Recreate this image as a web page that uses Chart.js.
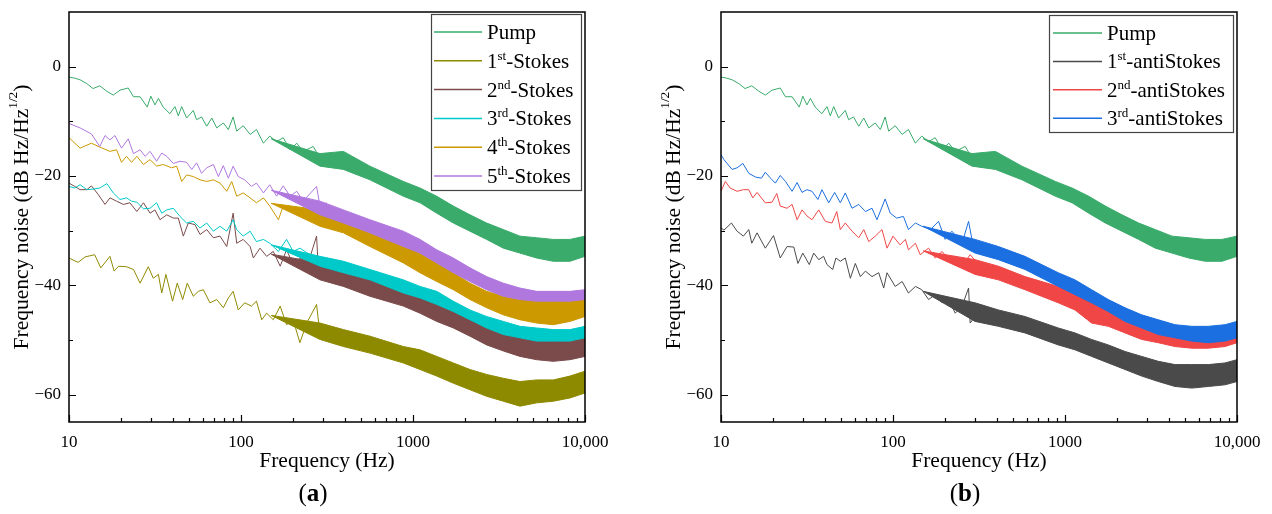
<!DOCTYPE html>
<html><head><meta charset="utf-8">
<script src="https://cdn.jsdelivr.net/npm/chart.js@4.4.1/dist/chart.umd.min.js"></script>
<style>
html,body{margin:0;padding:0;background:#fff;}
#wrap{position:relative;width:1272px;height:514px;overflow:hidden;}
.cv{position:absolute;top:0;width:636px;height:514px;}
</style></head><body>
<div id="wrap">
<div class="cv" style="left:0"><canvas id="ca" width="636" height="514"></canvas></div>
<div class="cv" style="left:636px"><canvas id="cb" width="636" height="514"></canvas></div>
</div>
<script>
// ---------- axes ----------
const xTicks = [10, 100, 1000, 10000];
const xTickLabels = ['10', '100', '1000', '10,000'];
const yTicks = [-60, -40, -20, 0];
const yTickLabels = ['\u221260', '\u221240', '\u221220', '0'];
const yMinorTicks = [-50, -30, -10];
const xTitle = 'Frequency (Hz)';

// ---------- low-frequency traces (Hz, dB) ----------
const pumpF = [10,10.8,11.6,12.7,13.8,15.1,16.6,18.1,19.8,22.1,23.7,25.9,28.5,29.9,31.6,33.1,35.3,38.6,41.3,43.2,45.2,48.3,52.8,55.2,59,63.2,67.6,72.3,78.9,84.4,90,94.4,103,113,123,135,147,161,176,193,211,230,263,288,315];
const pumpV = [-1.9,-2.1,-2.4,-3.1,-4.0,-3.5,-4.5,-5.2,-4.3,-3.9,-5.5,-5.5,-7.4,-5.4,-7.0,-5.8,-7.4,-8.6,-7.3,-9.0,-7.3,-9.4,-8.0,-9.7,-9.2,-10.9,-9.4,-11.2,-10.3,-11.5,-9.2,-11.8,-10.8,-12.4,-11.5,-14.0,-12.7,-13.7,-13.0,-15.2,-14.0,-15.5,-14.6,-16.7,-16.4];

const st1F = [10,11.3,12.4,14.1,15.3,17.3,18.3,19.4,21.6,23.7,25.9,28.9,30.9,33.1,34.6,36.6,40,42.6,45.8,48.7,52.8,56.5,60.4,66,72.3,78.9,84.4,90,96.4,105,115,123,132,141,154,169,184,201,220,241,275,288,315];
const st1V = [-35.0,-35.8,-34.8,-34.4,-36.8,-34.7,-37.4,-36.5,-36.6,-37.1,-39.6,-36.6,-38.7,-38.0,-41.4,-38.0,-42.9,-39.6,-42.6,-39.6,-42.0,-41.1,-40.8,-43.2,-42.6,-44.1,-42.3,-41.1,-44.5,-43.2,-43.8,-42.9,-46.3,-45.1,-46.3,-43.8,-47.2,-46.3,-50.5,-46.9,-43.5,-49.0,-48.0];

const st2F = [10,10.8,11.6,12.7,13.5,14.8,16.2,17.3,18.9,20.7,22.6,24.8,27.1,29.6,31.6,33.8,37,40.4,43.2,46.2,49.4,54,57.8,63.2,69.1,75.5,82.6,90,94.4,103,113,118,129,141,154,169,184,201,220,246,275,281,315];
const st2V = [-21.3,-21.9,-22.5,-22.5,-21.8,-23.4,-25.2,-24.0,-24.6,-25.2,-24.9,-26.5,-24.9,-26.8,-26.2,-28.0,-27.1,-27.7,-27.7,-31.0,-28.6,-28.9,-30.7,-29.8,-31.3,-31.0,-32.9,-26.8,-32.3,-31.6,-32.9,-35.0,-33.2,-34.7,-33.8,-36.5,-33.5,-36.2,-35.0,-35.9,-31.0,-36.5,-37.7];

const st3F = [10,10.8,11.6,12.7,13.8,15.1,16.6,18.1,19.8,21.6,23.1,24.8,27.1,29.6,32.3,34.6,37,40.4,44.2,48.3,52.8,57.8,63.2,69.1,75.5,82.6,90,94.4,103,113,123,135,147,165,184,201,220,252,288,315];
const st3V = [-21.9,-22.2,-21.6,-22.5,-22.4,-22.2,-21.4,-23.1,-24.3,-24.0,-24.6,-24.8,-26.0,-25.9,-24.9,-26.8,-26.2,-25.9,-27.4,-28.6,-28.3,-29.5,-28.6,-30.1,-29.2,-30.1,-28.0,-29.8,-31.0,-30.1,-32.0,-31.6,-32.3,-33.8,-31.6,-33.8,-33.2,-34.4,-35.0,-35.3];

const st4F = [10,11.6,13.5,15.1,17.3,18.9,20.2,21.6,23.1,24.8,27.1,29.6,32.3,35.3,39.5,42.3,45.2,48.3,52.8,57.8,63.2,69.1,75.5,82.6,88.3,94.4,103,113,123,135,147,165,176,193,220,252,288,315];
const st4V = [-13.0,-14.9,-14.0,-14.7,-15.5,-15.2,-17.5,-16.4,-17.5,-16.4,-17.9,-17.0,-18.2,-17.9,-18.5,-18.2,-21.0,-19.8,-20.1,-20.7,-21.0,-20.7,-21.3,-22.8,-21.0,-23.7,-23.1,-24.0,-24.9,-24.0,-25.5,-28.0,-25.5,-26.5,-27.1,-27.4,-28.6,-29.2];

const st5F = [10,11.6,13.5,15.1,16.2,17.3,18.5,20.2,22.1,23.7,25.9,27.7,29.6,32.3,34.6,37,40.4,44.2,48.3,51.7,55.2,59,63.2,69.1,73.9,78.9,84.4,90,96.4,105,115,123,135,147,161,176,193,211,230,275,288,315];
const st5V = [-10.4,-11.2,-12.3,-14.6,-12.6,-13.4,-12.6,-14.9,-13.2,-15.9,-15.2,-16.4,-15.5,-17.3,-15.8,-16.4,-17.7,-17.3,-17.5,-18.8,-17.6,-19.5,-18.5,-17.9,-20.1,-18.1,-20.4,-18.2,-20.1,-20.7,-21.9,-21.3,-23.1,-21.6,-23.7,-21.8,-23.7,-22.8,-24.6,-21.9,-25.5,-24.9];

const as1F = [10,10.4,11.5,12.4,13.5,14.5,15.1,16.2,18.1,20.2,22.1,24.2,26.5,28,29.9,32.6,34.6,37,39.5,41.3,44.6,46.6,49.4,52.8,56.5,60.4,64.6,69.1,75.5,82.6,88.3,92.3,103,113,123,135,147,161,176,193,211,230,252,275,281,315];
const as1V = [-29.5,-29.9,-28.6,-30.1,-31.0,-29.8,-32.3,-30.4,-33.2,-30.9,-35.0,-32.9,-33.0,-36.0,-34.1,-36.2,-34.1,-35.3,-34.7,-36.2,-37.1,-35.0,-35.6,-35.0,-38.7,-36.0,-38.4,-37.4,-38.4,-37.7,-40.5,-37.7,-40.2,-39.3,-41.4,-40.2,-40.8,-42.6,-41.7,-43.2,-42.6,-45.1,-43.8,-40.5,-46.9,-44.8];

const as2F = [10,10.6,11.3,12.4,13.5,14.5,15.3,16.2,18.1,19.8,21.1,22.1,24.2,25.9,27.7,29.6,31.6,33.8,37,40.4,44.2,47.1,49.4,52.8,57.8,63.2,67.6,72.3,78.9,86.3,92.3,100,110,118,123,135,144,161,176,193,211,230,252,281,315];
const as2V = [-22.8,-21.0,-22.2,-22.8,-22.5,-22.5,-24.0,-23.0,-24.9,-24.8,-23.2,-25.5,-25.9,-25.2,-28.0,-26.2,-27.3,-28.0,-26.2,-28.3,-28.6,-26.5,-29.8,-28.6,-30.1,-31.3,-29.8,-32.0,-31.0,-29.8,-33.2,-31.0,-32.6,-31.6,-33.5,-32.3,-34.4,-33.2,-35.0,-33.8,-35.3,-34.7,-36.5,-34.4,-36.2];

const as3F = [10,10.4,11.6,12.4,13.4,14.5,15.9,17.2,18.1,19.4,20.7,22.1,23.7,25.9,27.7,29.6,31.6,33.8,36.6,38.6,42.3,45.8,49.4,52.8,57.8,63.2,69.1,75.5,80.7,90,96.4,105,115,123,135,147,165,184,201,220,252,275,294,315];
const as3V = [-16.1,-17.0,-18.8,-18.5,-17.7,-19.5,-20.2,-20.4,-19.3,-20.4,-21.3,-19.9,-21.0,-22.8,-21.2,-23.0,-22.5,-22.8,-24.3,-22.5,-24.9,-23.0,-24.9,-23.1,-25.9,-25.2,-26.5,-25.9,-28.0,-24.2,-26.8,-27.7,-27.4,-29.8,-28.6,-29.2,-29.8,-28.3,-31.6,-30.1,-32.3,-28.3,-33.2,-32.6];

// ---------- high-frequency noise bands: upper / lower envelope (dB) ----------
const bandFreqA = [150, 288, 394, 562, 879, 1099, 1374, 1716, 2144, 2680, 3350, 4187, 5232, 6539, 8177, 10000];
const pumpUp  = [-13.2,-15.9,-15.5,-18.2,-21.0,-22.2,-23.7,-25.5,-27.1,-28.6,-29.8,-31.0,-31.3,-31.6,-31.6,-31.0];
const pumpLo  = [-13.2,-18.2,-18.8,-20.7,-23.7,-24.9,-26.8,-28.6,-30.1,-31.6,-33.2,-34.1,-35.0,-35.6,-35.6,-34.7];
const st1Up   = [-45.5,-46.9,-48.1,-49.3,-51.2,-51.8,-53.0,-54.2,-55.4,-56.3,-57.0,-57.6,-57.3,-57.3,-56.6,-55.7];
const st1Lo   = [-45.5,-49.9,-51.2,-52.4,-54.2,-55.4,-56.6,-57.9,-59.1,-60.3,-61.2,-62.1,-61.5,-61.2,-60.6,-59.7];
const st2Up   = [-34.3,-35.9,-37.1,-39.0,-40.8,-42.0,-43.2,-44.8,-46.3,-47.5,-48.4,-49.0,-49.6,-49.9,-49.9,-49.3];
const st2Lo   = [-34.3,-39.0,-40.2,-42.0,-43.8,-45.1,-46.6,-47.8,-49.3,-50.9,-52.0,-53.0,-53.6,-53.9,-53.6,-53.0];
const st3Up   = [-32.6,-34.7,-35.6,-37.1,-39.0,-40.2,-41.1,-42.9,-44.5,-45.7,-46.6,-47.5,-47.8,-48.1,-48.1,-47.5];
const st3Lo   = [-32.6,-36.5,-37.7,-39.0,-41.4,-42.3,-43.5,-44.8,-46.3,-47.8,-49.0,-49.6,-50.2,-50.2,-50.2,-49.6];
const st4Up   = [-25.0,-26.2,-28.0,-30.4,-32.9,-34.1,-35.9,-37.7,-39.6,-41.1,-42.0,-42.6,-42.6,-42.6,-42.3,-41.4];
const st4Lo   = [-25.0,-29.2,-30.4,-32.9,-35.9,-37.7,-39.3,-40.8,-42.6,-44.1,-45.4,-46.3,-46.9,-47.2,-46.6,-45.7];
const st5Up   = [-22.6,-24.6,-26.2,-28.0,-30.1,-31.6,-33.5,-35.0,-36.8,-38.4,-39.6,-40.5,-41.1,-41.1,-41.1,-40.8];
const st5Lo   = [-22.6,-27.1,-28.6,-30.4,-32.9,-34.1,-35.9,-37.7,-39.3,-40.8,-42.0,-42.6,-42.9,-42.9,-42.9,-42.6];

const bandFreqB = [150, 300, 410, 585, 914, 1143, 1428, 1786, 2233, 2792, 3486, 4363, 5454, 6813, 8511, 10000];
const as1Up   = [-41.1,-43.2,-44.5,-45.7,-47.8,-48.7,-49.9,-50.9,-52.1,-53.0,-53.9,-54.5,-54.5,-54.5,-54.2,-53.6];
const as1Lo   = [-41.1,-46.6,-47.5,-48.7,-50.9,-51.8,-53.0,-54.2,-55.4,-56.6,-57.6,-58.5,-58.8,-58.5,-58.2,-57.6];
const as2Up   = [-33.7,-35.3,-36.5,-38.4,-40.2,-41.4,-42.6,-44.5,-46.0,-47.2,-48.1,-48.7,-49.0,-49.0,-48.7,-48.4];
const as2Lo   = [-33.7,-38.0,-39.0,-40.8,-43.2,-44.5,-46.9,-47.5,-48.7,-49.9,-50.5,-51.2,-51.5,-51.5,-51.2,-50.5];
const as3Up   = [-29.2,-31.6,-32.9,-34.7,-37.7,-39.0,-40.8,-42.6,-44.1,-45.4,-46.3,-47.2,-47.5,-47.5,-47.2,-46.6];
const as3Lo   = [-29.2,-34.1,-35.3,-37.1,-40.2,-41.7,-43.2,-44.8,-46.6,-47.8,-49.0,-49.6,-50.2,-50.5,-50.2,-49.6];

// ---------- legend labels ----------
const legendA = [
  [['Pump']],
  [['1'],['st',1],['-Stokes']],
  [['2'],['nd',1],['-Stokes']],
  [['3'],['rd',1],['-Stokes']],
  [['4'],['th',1],['-Stokes']],
  [['5'],['th',1],['-Stokes']]
];
const legendB = [
  [['Pump']],
  [['1'],['st',1],['-antiStokes']],
  [['2'],['nd',1],['-antiStokes']],
  [['3'],['rd',1],['-antiStokes']]
];

const C = {
  pump:'#3aab6b', st1:'#8e8a00', st2:'#7b4b4b', st3:'#00c9c9', st4:'#cc9900', st5:'#b077df',
  as1:'#4a4a4a', as2:'#f04646', as3:'#1b6fe0'
};

const SERIF = '"Liberation Serif","Times New Roman",serif';

function pts(f, v){ return f.map((x,i)=>({x:x, y:v[i]})); }
function series(label, f, v, bf, up, lo, color, order){
  return [
    {label:label, data:pts(f,v), borderColor:color, backgroundColor:color, borderWidth:1, pointRadius:0, fill:false, order:order, tension:0},
    {label:label+'_up', data:pts(bf,up), borderColor:color, backgroundColor:color, borderWidth:1, pointRadius:0, fill:'+1', order:order, tension:0},
    {label:label+'_lo', data:pts(bf,lo), borderColor:color, backgroundColor:color, borderWidth:1, pointRadius:0, fill:false, order:order, tension:0}
  ];
}

function richWidth(ctx, parts, size){
  let w=0;
  for(const p of parts){
    ctx.font = (p[1]? size*0.62: size)+'px '+SERIF;
    w += ctx.measureText(p[0]).width;
  }
  return w;
}
function drawRich(ctx, parts, x, y, size){
  let cx=x;
  for(const p of parts){
    const s = p[1]? size*0.62 : size;
    ctx.font = s+'px '+SERIF;
    ctx.fillText(p[0], cx, p[1]? y - size*0.38 : y);
    cx += ctx.measureText(p[0]).width;
  }
}

const decoPlugin = {
  id:'deco',
  afterDraw(chart){
    const o = chart.options.plugins.deco;
    const ctx = chart.ctx, a = chart.chartArea, xs = chart.scales.x, ys = chart.scales.y;
    ctx.save();
    ctx.strokeStyle='#000'; ctx.fillStyle='#000';
    // frame
    ctx.lineWidth=1.5;
    ctx.strokeRect(a.left, a.top, a.right-a.left, a.bottom-a.top);
    // ticks (inward)
    ctx.lineWidth=1.2;
    ctx.beginPath();
    for(const v of xTicks){ const px=Math.round(xs.getPixelForValue(v))+0.5; ctx.moveTo(px,a.bottom); ctx.lineTo(px,a.bottom-7); }
    for(let d=10; d<10000; d*=10){ for(let k=2;k<=9;k++){ const px=Math.round(xs.getPixelForValue(d*k))+0.5; ctx.moveTo(px,a.bottom); ctx.lineTo(px,a.bottom-4); } }
    for(const v of yTicks){ const py=Math.round(ys.getPixelForValue(v))+0.5; ctx.moveTo(a.left,py); ctx.lineTo(a.left+7,py); }
    for(const v of yMinorTicks){ const py=Math.round(ys.getPixelForValue(v))+0.5; ctx.moveTo(a.left,py); ctx.lineTo(a.left+4,py); }
    ctx.stroke();
    // y title
    const yParts = [['Frequency noise (dB Hz/Hz'],['1/2',1],[')']];
    const ts = 21.5;
    const yw = richWidth(ctx, yParts, ts);
    ctx.save();
    ctx.translate(a.left-47, (a.top+a.bottom)/2);
    ctx.rotate(-Math.PI/2);
    ctx.textBaseline='middle';
    drawRich(ctx, yParts, -yw/2, 0, ts);
    ctx.restore();
    // x title
    ctx.textBaseline='alphabetic';
    ctx.font = ts+'px '+SERIF;
    const xw = ctx.measureText(xTitle).width;
    const cxm = (a.left+a.right)/2;
    ctx.fillText(xTitle, cxm - xw/2, 467);
    // subcaption
    const sc = 25;
    ctx.font = sc+'px '+SERIF; const pw = ctx.measureText('(').width;
    ctx.font = 'bold '+sc+'px '+SERIF; const lw = ctx.measureText(o.sub).width;
    let sx = cxm - 14 - (2*pw+lw)/2;
    ctx.font = sc+'px '+SERIF; ctx.fillText('(', sx, 501); sx+=pw;
    ctx.font = 'bold '+sc+'px '+SERIF; ctx.fillText(o.sub, sx, 501); sx+=lw;
    ctx.font = sc+'px '+SERIF; ctx.fillText(')', sx, 501);
    // legend
    const L = o.legend;
    const bx = a.right - L.fromRight, by = a.top + L.top;
    ctx.fillStyle='#fff';
    ctx.fillRect(bx, by, L.w, L.h);
    ctx.strokeStyle='#444'; ctx.lineWidth=1.2;
    ctx.strokeRect(bx+0.5, by+0.5, L.w, L.h);
    L.items.forEach((parts,i)=>{
      const cy = by + L.first + i*L.step;
      ctx.strokeStyle = L.colors[i]; ctx.lineWidth = 1.5;
      ctx.beginPath(); ctx.moveTo(bx+L.l0, cy); ctx.lineTo(bx+L.l1, cy); ctx.stroke();
      ctx.fillStyle='#000';
      drawRich(ctx, parts, bx+L.tx, cy + 7, 21);
    });
    ctx.restore();
  }
};

function makeChart(id, datasets, yW, rightPad, sub, legend){
  const ch = new Chart(document.getElementById(id), {
    type:'line',
    data:{datasets:datasets},
    plugins:[decoPlugin],
    options:{
      responsive:false, animation:false, events:[],
      layout:{padding:{left:0, right:rightPad, top:12, bottom:0}},
      plugins:{legend:{display:false}, tooltip:{enabled:false}, deco:{sub:sub, legend:legend}},
      scales:{
        x:{type:'logarithmic', min:10, max:10000,
          grid:{display:false, drawTicks:false}, border:{display:false},
          afterBuildTicks:s=>{ s.ticks = xTicks.map(v=>({value:v})); },
          ticks:{autoSkip:false, maxRotation:0, padding:10, color:'#000',
            font:{family:SERIF, size:17},
            callback:(v)=>{ const i=xTicks.indexOf(v); return i>=0? xTickLabels[i] : ''; }},
          afterFit:s=>{ s.height = 92; s.paddingLeft = 0; s.paddingRight = 0; }
        },
        y:{type:'linear', min:-65, max:10,
          grid:{display:false, drawTicks:false}, border:{display:false},
          afterBuildTicks:s=>{ s.ticks = yTicks.map(v=>({value:v})); },
          ticks:{padding:8, color:'#000', font:{family:SERIF, size:17},
            callback:(v)=>{ const i=yTicks.indexOf(v); return i>=0? yTickLabels[i] : ''; }},
          afterFit:s=>{ s.width = yW; s.paddingTop = 0; s.paddingBottom = 0; }
        }
      }
    }
  });
  return ch;
}

const dsA = [].concat(
  series('Pump', pumpF, pumpV, bandFreqA, pumpUp, pumpLo, C.pump, 60),
  series('1st-Stokes', st1F, st1V, bandFreqA, st1Up, st1Lo, C.st1, 50),
  series('2nd-Stokes', st2F, st2V, bandFreqA, st2Up, st2Lo, C.st2, 40),
  series('3rd-Stokes', st3F, st3V, bandFreqA, st3Up, st3Lo, C.st3, 30),
  series('4th-Stokes', st4F, st4V, bandFreqA, st4Up, st4Lo, C.st4, 20),
  series('5th-Stokes', st5F, st5V, bandFreqA, st5Up, st5Lo, C.st5, 10)
);
const dsB = [].concat(
  series('Pump', pumpF, pumpV, bandFreqA, pumpUp, pumpLo, C.pump, 60),
  series('1st-antiStokes', as1F, as1V, bandFreqB, as1Up, as1Lo, C.as1, 50),
  series('2nd-antiStokes', as2F, as2V, bandFreqB, as2Up, as2Lo, C.as2, 40),
  series('3rd-antiStokes', as3F, as3V, bandFreqB, as3Up, as3Lo, C.as3, 30)
);

makeChart('ca', dsA, 69, 51, 'a', {items:legendA, colors:[C.pump,C.st1,C.st2,C.st3,C.st4,C.st5],
  fromRight:154, top:2, w:150, h:176, first:18, step:28.8, l0:3, l1:51, tx:56});
makeChart('cb', dsB, 85, 35, 'b', {items:legendB, colors:[C.pump,C.as1,C.as2,C.as3],
  fromRight:188, top:3, w:184, h:117, first:18, step:28.4, l0:4, l1:53, tx:58});
</script>
</body></html>
